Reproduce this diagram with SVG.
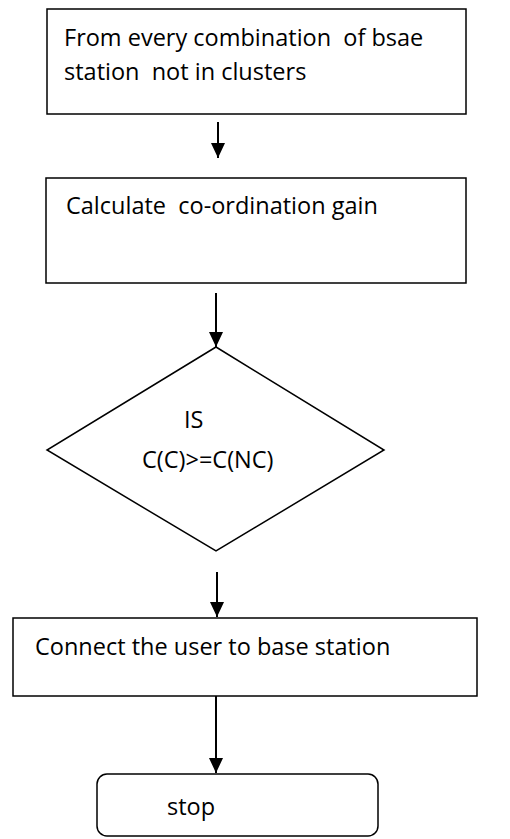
<svg xmlns="http://www.w3.org/2000/svg" width="510" height="839" viewBox="0 0 510 839">
<style>
.box{fill:#fff;stroke:#000;stroke-width:1.5}
.t{font-family:"Open Sans","Liberation Sans",Arial,sans-serif;font-size:23.5px;fill:#000;white-space:pre}
.c{stroke:#000;stroke-width:2;fill:none}
</style>
<defs>
<marker id="ah" viewBox="0 0 15 14" refX="15" refY="7" markerWidth="15" markerHeight="14" markerUnits="userSpaceOnUse" orient="auto">
<path d="M0,0 L15,7 L0,14 z" fill="#000"/>
</marker>
</defs>
<rect width="510" height="839" fill="#fff"/>
<g id="n1">
<rect class="box" x="47" y="9" width="419" height="105"/>
<text class="t" x="64" y="46" xml:space="preserve">From every combination  of bsae</text>
<text class="t" x="64" y="80" xml:space="preserve">station  not in clusters</text>
</g>
<g id="n2">
<rect class="box" x="46" y="178" width="420" height="105"/>
<text class="t" x="66" y="214" xml:space="preserve">Calculate  co-ordination gain</text>
</g>
<g id="n3">
<polygon class="box" points="216,347 384,450 216,551 47,450"/>
<text class="t" x="184" y="428">IS</text>
<text class="t" x="142" y="468">C(C)&gt;=C(NC)</text>
</g>
<g id="n4">
<rect class="box" x="13" y="618" width="464" height="78"/>
<text class="t" x="35" y="655">Connect the user to base station</text>
</g>
<g id="n5">
<rect class="box" x="97" y="774" width="281" height="62" rx="10"/>
<text class="t" x="167" y="815">stop</text>
</g>
<g id="connectors">
<line class="c" x1="218" y1="122" x2="218" y2="158" marker-end="url(#ah)"/>
<line class="c" x1="216" y1="293" x2="216" y2="347" marker-end="url(#ah)"/>
<line class="c" x1="217" y1="572" x2="217" y2="617" marker-end="url(#ah)"/>
<line class="c" x1="216" y1="696" x2="216" y2="773" marker-end="url(#ah)"/>
</g>
</svg>
